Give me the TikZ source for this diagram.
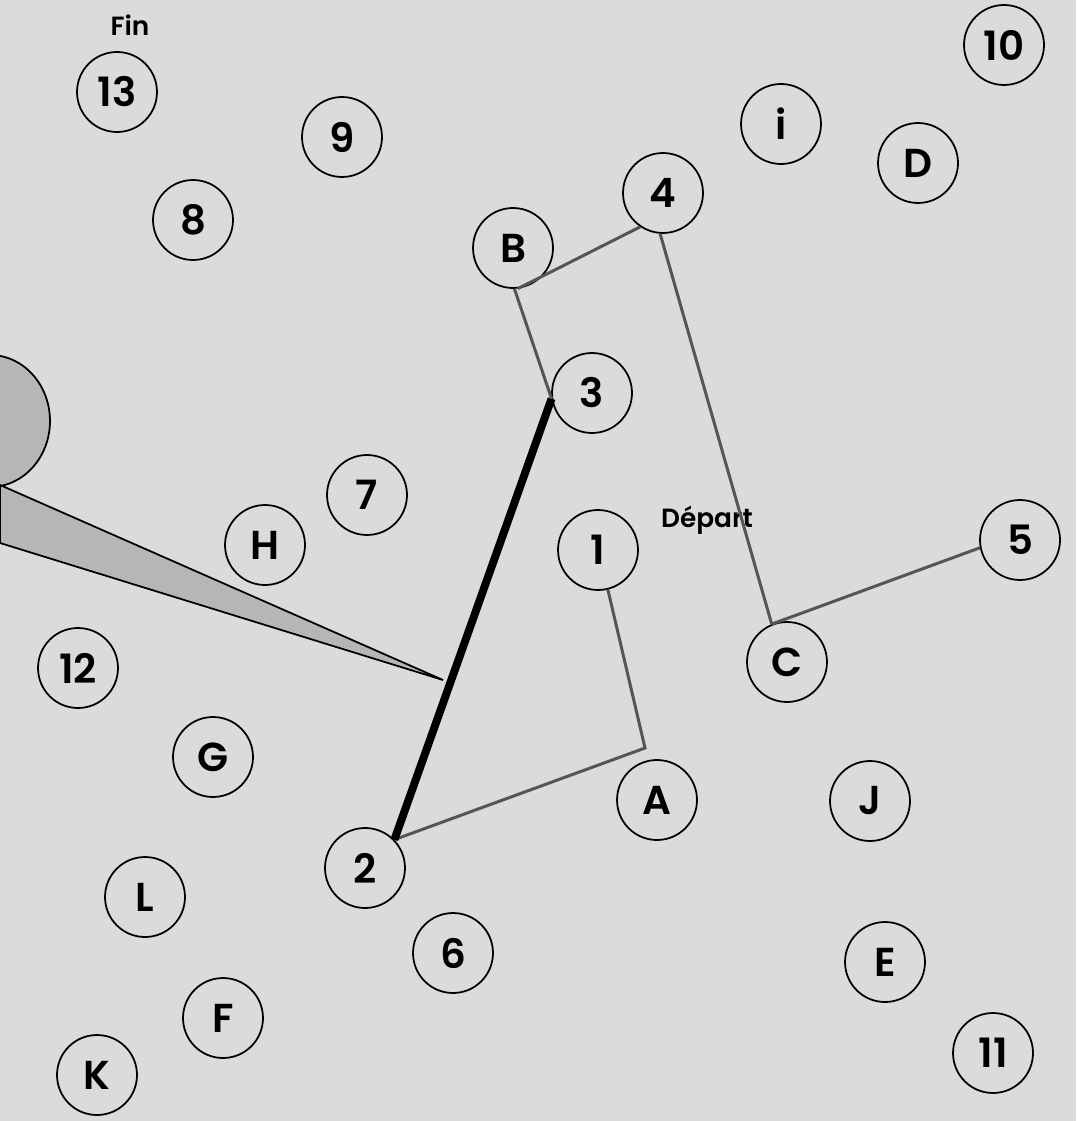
\documentclass[tikz,border=0pt]{standalone}
\usepackage{fontspec}
\setmainfont{Poppins}[BoldFont={Poppins SemiBold}]
\usepackage{tikz}
\usetikzlibrary{shapes.geometric, positioning}
\usepackage{xcolor}
\definecolor{papercolor}{RGB}{219,219,219}
\definecolor{bubblecolor}{RGB}{182,182,182}
\definecolor{legcolor}{RGB}{85,85,85}

\begin{document}
\begin{tikzpicture}[
    x=0.02cm, y=-0.02cm,
    balise/.style={circle, draw, line width=1pt, minimum size=1.6cm, inner sep=0pt, fill=papercolor, font=\fontsize{23}{26}\selectfont\bfseries},
    tag/.style={font=\fontsize{15}{18}\selectfont\bfseries},
    leg/.style={draw=legcolor, line width=1.7pt},
    done/.style={draw=black, line width=4.5pt},
    bubble/.style={draw, line width=1pt, fill=bubblecolor}
]
\fill[papercolor] (0,0) rectangle (1076,1121);
\useasboundingbox (0,0) rectangle (1076,1121);

\begin{scope}
\clip (0,0) rectangle (1076,1121);
\draw[bubble] (-10,421) ellipse [x radius=60, y radius=66];
\draw[bubble] (0,485) -- (443,680) -- (0,543) -- cycle;
\end{scope}

\node[balise] (n13) at (117,92) {13};
\node[balise] (n9) at (342,137) {9};
\node[balise] (n8) at (193,220) {8};
\node[balise] (nB) at (513,248) {B};
\node[balise] (n4) at (663,193) {4};
\node[balise] (ni) at (781,124) {i};
\node[balise] (nD) at (918,163) {D};
\node[balise] (n10) at (1004,45) {10};
\node[balise] (n3) at (592,393) {3};
\node[balise] (n7) at (367,495) {7};
\node[balise] (nH) at (265,545) {H};
\node[balise] (n1) at (598,550) {1};
\node[balise] (n5) at (1020,540) {5};
\node[balise] (nC) at (787,662) {C};
\node[balise] (n12) at (78,668) {12};
\node[balise] (nG) at (213,757) {G};
\node[balise] (nA) at (657,800) {A};
\node[balise] (nJ) at (870,801) {J};
\node[balise] (n2) at (365,868) {2};
\node[balise] (nL) at (145,897) {L};
\node[balise] (n6) at (453,953) {6};
\node[balise] (nE) at (885,962) {E};
\node[balise] (nF) at (223,1018) {F};
\node[balise] (n11) at (993,1053) {11};
\node[balise] (nK) at (97,1075) {K};

\node[tag] (fin) at (130,25) {Fin};
\node[tag] (depart) at (707,520) {Départ};

\coordinate (bend) at (645,748);

\draw[leg] (n1.-76) -- (bend) -- (n2.44);
\draw[done] (n2.44) -- (n3.188);
\draw[leg] (n3.188) -- (nB.-88);
\draw[leg] (nB.-83) -- (n4.-124);
\draw[leg] (n4.-94) -- (nC.112);
\draw[leg] (nC.112) -- (n5.191);
\end{tikzpicture}
\end{document}
